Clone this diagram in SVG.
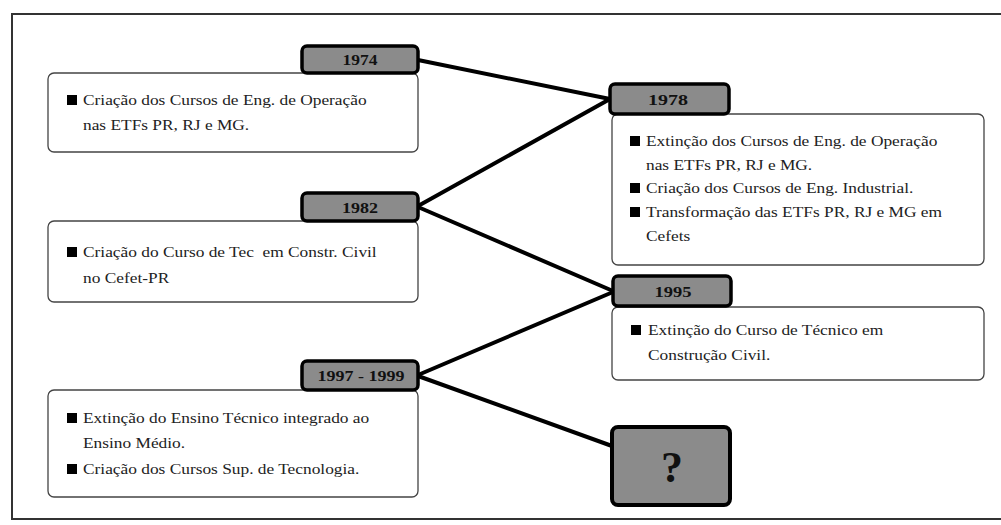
<svg xmlns="http://www.w3.org/2000/svg" width="1001" height="525" viewBox="0 0 1001 525">
<style>
.frame{fill:none;stroke:#333;stroke-width:2}
.card{fill:#fff;stroke:#444;stroke-width:1.3}
.year{fill:#8b8b8b;stroke:#000;stroke-width:3.5}
.yt{font-family:"Liberation Serif",serif;font-weight:bold;font-size:15px;fill:#111;text-anchor:middle}
.t{font-family:"Liberation Serif",serif;font-size:15.5px;fill:#222}
.b{fill:#000}
.conn line{stroke:#000;stroke-width:4;stroke-linecap:round}
.q{font-family:"Liberation Serif",serif;font-weight:bold;font-size:44px;fill:#111;text-anchor:middle}
</style>
<rect width="1001" height="525" fill="#fff"/>
<rect class="frame" x="12" y="14" width="1000" height="505"/>
<g id="connectors" class="conn">
<line x1="418" y1="60" x2="610" y2="99"/>
<line x1="418" y1="206" x2="610" y2="99"/>
<line x1="418" y1="207" x2="613" y2="291"/>
<line x1="418" y1="375" x2="613" y2="292"/>
<line x1="418" y1="376" x2="612" y2="446"/>
</g>
<g id="n1974">
<rect class="card" x="48" y="73" width="370" height="79" rx="6"/>
<rect class="b" x="67" y="95" width="10" height="10"/>
<g class="t" transform="translate(83,0) scale(1.12,1)">
<text x="0" y="105">Criação dos Cursos de Eng. de Operação</text>
<text x="0" y="130">nas ETFs PR, RJ e MG.</text>
</g>
<rect class="year" x="302" y="46" width="116" height="27" rx="5"/>
<text class="yt" x="360" y="64.5" textLength="35" lengthAdjust="spacingAndGlyphs">1974</text>
</g>
<g id="n1982">
<rect class="card" x="48" y="221" width="370" height="81" rx="6"/>
<rect class="b" x="67" y="247" width="10" height="10"/>
<g class="t" transform="translate(83,0) scale(1.12,1)">
<text x="0" y="257" xml:space="preserve">Criação do Curso de Tec  em Constr. Civil</text>
<text x="0" y="283">no Cefet-PR</text>
</g>
<rect class="year" x="302" y="193" width="116" height="28" rx="5"/>
<text class="yt" x="360" y="212.5" textLength="36" lengthAdjust="spacingAndGlyphs">1982</text>
</g>
<g id="n1997">
<rect class="card" x="48" y="390" width="370" height="107" rx="6"/>
<rect class="b" x="67" y="413" width="10" height="10"/>
<rect class="b" x="67" y="464" width="10" height="10"/>
<g class="t" transform="translate(83,0) scale(1.12,1)">
<text x="0" y="423">Extinção do Ensino Técnico integrado ao</text>
<text x="0" y="448">Ensino Médio.</text>
<text x="0" y="474">Criação dos Cursos Sup. de Tecnologia.</text>
</g>
<rect class="year" x="302" y="361" width="116" height="29" rx="5"/>
<text class="yt" x="361" y="381" textLength="87" lengthAdjust="spacingAndGlyphs">1997 - 1999</text>
</g>
<g id="n1978">
<rect class="card" x="612" y="114" width="372" height="151" rx="6"/>
<rect class="b" x="630" y="136" width="10" height="10"/>
<rect class="b" x="630" y="183" width="10" height="10"/>
<rect class="b" x="630" y="207" width="10" height="10"/>
<g class="t" transform="translate(646,0) scale(1.12,1)">
<text x="0" y="146">Extinção dos Cursos de Eng. de Operação</text>
<text x="0" y="170">nas ETFs PR, RJ e MG.</text>
<text x="0" y="193">Criação dos Cursos de Eng. Industrial.</text>
<text x="0" y="217">Transformação das ETFs PR, RJ e MG em</text>
<text x="0" y="241">Cefets</text>
</g>
<rect class="year" x="610" y="84" width="119" height="30" rx="5"/>
<text class="yt" x="668" y="104.5" textLength="40" lengthAdjust="spacingAndGlyphs">1978</text>
</g>
<g id="n1995">
<rect class="card" x="612" y="307" width="372" height="73" rx="6"/>
<rect class="b" x="631" y="325" width="10" height="10"/>
<g class="t" transform="translate(648,0) scale(1.12,1)">
<text x="0" y="335">Extinção do Curso de Técnico em</text>
<text x="0" y="360">Construção Civil.</text>
</g>
<rect class="year" x="613" y="276" width="118" height="30" rx="5"/>
<text class="yt" x="673" y="296.5" textLength="37" lengthAdjust="spacingAndGlyphs">1995</text>
</g>
<g id="nq">
<rect class="year" x="612" y="427" width="118" height="78" rx="6" style="stroke-width:4"/>
<text class="q" x="672" y="482">?</text>
</g>
</svg>
